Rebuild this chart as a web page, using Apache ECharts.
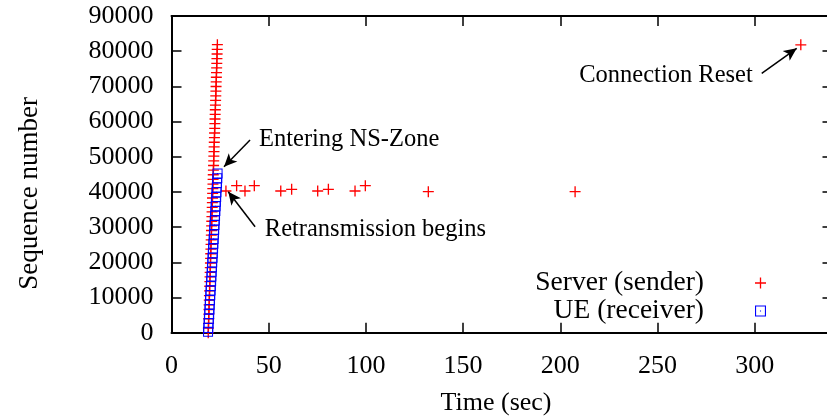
<!DOCTYPE html>
<html><head><meta charset="utf-8">
<script src="https://cdn.jsdelivr.net/npm/echarts@6/dist/echarts.min.js"></script>
<style>html,body{margin:0;padding:0;background:#fff}#c{width:827px;height:419px}</style>
</head><body><div id="c"></div>
<script>
// ---- data ----
const xTicks = [0, 50, 100, 150, 200, 250, 300];
const yTicks = [0, 10000, 20000, 30000, 40000, 50000, 60000, 70000, 80000, 90000];
const seriesNames = ['Server (sender)', 'UE (receiver)'];

// Server (sender): initial burst, retransmissions, connection reset
const serverTime = [
  18.90,18.98,19.05,19.13,19.20,19.28,19.35,19.43,19.51,19.58,19.66,19.73,19.81,19.89,19.96,20.04,
  20.11,20.19,20.26,20.34,20.42,20.49,20.57,20.64,20.72,20.80,20.87,20.95,21.02,21.10,21.17,21.25,
  21.33,21.40,21.48,21.55,21.63,21.71,21.78,21.86,21.93,22.01,22.08,22.16,22.24,22.31,22.39,22.46,
  22.54,22.61,22.69,22.77,22.84,22.92,22.99,23.07,23.15,23.22,23.30,23.37,23.45,23.52,23.60,
  28.0,33.5,37.8,42.6,56.2,61.8,75.2,80.7,94.4,99.7,132.1,207.6,
  323.7
];
const serverSeq = [
  0,1320,2640,3960,5280,6600,7920,9240,10560,11880,13200,14520,15840,17160,18480,19800,
  21120,22440,23760,25080,26400,27720,29040,30360,31680,33000,34320,35640,36960,38280,39600,40920,
  42240,43560,44880,46200,47520,48840,50160,51480,52800,54120,55440,56760,58080,59400,60720,62040,
  63360,64680,66000,67320,68640,69960,71280,72600,73920,75240,76560,77880,79200,80520,81840,
  40270,41780,40270,41780,40270,40750,40270,40750,40270,41780,40070,40070,
  81800
];

// UE (receiver)
const ueTime = [
  18.80,18.94,19.09,19.23,19.38,19.52,19.66,19.81,19.95,20.10,20.24,20.39,20.53,20.67,20.82,20.96,
  21.11,21.25,21.39,21.54,21.68,21.83,21.97,22.11,22.26,22.40,22.55,22.69,22.84,22.98,23.12,23.27,
  23.41,23.56,23.70
];
const ueSeq = [
  300,1330,2660,3990,5320,6650,7980,9310,10640,11970,13300,14630,15960,17290,18620,19950,
  21280,22610,23940,25270,26600,27930,29260,30590,31920,33250,34580,35910,37240,38570,39900,41230,
  42560,43890,45220
];

const annotations = ['Entering NS-Zone', 'Retransmission begins', 'Connection Reset'];

// ---- chart ----
const FONT = 'Liberation Serif';
const plusPath = 'path://M4.4,0H5.6V4.4H10V5.6H5.6V10H4.4V5.6H0V4.4H4.4Z';
const squarePath = 'path://M0,0H10V10H0ZM1,1V9H9V1ZM4.5,4.5H5.5V5.5H4.5Z';

const chart = echarts.init(document.getElementById('c'), null, {renderer: 'canvas'});

const axisLineStyle = {show: true, onZero: false, lineStyle: {color: '#000', width: 2}};
const tickStyle = {show: true, inside: true, length: 10, lineStyle: {color: '#000', width: 1.5}};
const plain = v => String(v);

const option = {
  animation: false,
  backgroundColor: '#fff',
  grid: {left: 171.5, top: 16, width: 661, height: 316.7, outerBoundsMode: 'none', containLabel: false},
  xAxis: [{
    type: 'value', min: 0, max: 340, position: 'bottom',
    name: 'Time (sec)', nameLocation: 'middle', nameGap: 57,
    nameTextStyle: {fontFamily: FONT, fontSize: 26, color: '#000', padding: [0, 12, 0, 0]},
    axisLine: axisLineStyle,
    axisTick: Object.assign({customValues: xTicks}, tickStyle),
    axisLabel: {customValues: xTicks, formatter: plain, fontFamily: FONT, fontSize: 26, color: '#000', margin: 20},
    splitLine: {show: false}
  }, {
    type: 'value', min: 0, max: 340, position: 'top',
    axisLine: axisLineStyle,
    axisTick: Object.assign({customValues: xTicks}, tickStyle),
    axisLabel: {show: false}, splitLine: {show: false}
  }],
  yAxis: [{
    type: 'value', min: 0, max: 90000, position: 'left',
    name: 'Sequence number', nameLocation: 'middle', nameGap: 128, nameRotate: 90,
    nameTextStyle: {fontFamily: FONT, fontSize: 27, color: '#000', padding: [0, 38, 0, 0]},
    axisLine: axisLineStyle,
    axisTick: Object.assign({customValues: yTicks}, tickStyle),
    axisLabel: {customValues: yTicks, formatter: plain, fontFamily: FONT, fontSize: 26, color: '#000', margin: 18},
    splitLine: {show: false}
  }, {
    type: 'value', min: 0, max: 90000, position: 'right',
    axisLine: axisLineStyle,
    axisTick: Object.assign({customValues: yTicks}, tickStyle),
    axisLabel: {show: false}, splitLine: {show: false}
  }],
  legend: {
    orient: 'vertical', align: 'right', right: 56, top: 264,
    itemWidth: 11, itemHeight: 11, itemGap: 0,
    selectedMode: false,
    data: [{name: seriesNames[0], icon: plusPath}, {name: seriesNames[1], icon: squarePath}],
    textStyle: {fontFamily: FONT, fontSize: 27.5, color: '#000', padding: [0, 46, 0, 0], lineHeight: 28}
  },
  series: [{
    name: seriesNames[0], type: 'scatter', xAxisIndex: 0, yAxisIndex: 0,
    symbol: plusPath, symbolSize: 11,
    itemStyle: {color: '#ff0000', opacity: 1},
    emphasis: {disabled: true},
    data: serverTime.map((t, i) => [t, serverSeq[i]]),
    markLine: {
      silent: true, symbol: ['none', 'arrow'], symbolSize: [9, 13],
      label: {show: false},
      lineStyle: {color: '#000', width: 1.5, type: 'solid'},
      emphasis: {disabled: true},
      data: [
        [{coord: [40.4, 54760]}, {coord: [27.0, 47170]}],
        [{coord: [43.0, 30120]}, {coord: [29.2, 40070]}],
        [{coord: [303.6, 73710]}, {coord: [321.6, 80820]}]
      ]
    },
    markPoint: {
      silent: true, symbol: 'circle', symbolSize: 0,
      itemStyle: {color: 'transparent'},
      label: {show: true, position: 'inside', fontFamily: FONT, fontSize: 24.5, color: '#000', verticalAlign: 'middle'},
      data: [
        {coord: [45.0, 54770], value: annotations[0], label: {align: 'left', formatter: annotations[0]}},
        {coord: [48.0, 29200], value: annotations[1], label: {align: 'left', formatter: annotations[1]}},
        {coord: [299.0, 73000], value: annotations[2], label: {align: 'right', formatter: annotations[2]}}
      ]
    }
  }, {
    name: seriesNames[1], type: 'scatter', xAxisIndex: 0, yAxisIndex: 0,
    symbol: squarePath, symbolSize: 10,
    itemStyle: {color: '#0000ff', opacity: 1},
    emphasis: {disabled: true},
    data: ueTime.map((t, i) => [t, ueSeq[i]])
  }]
};
chart.setOption(option);
</script>
</body></html>
